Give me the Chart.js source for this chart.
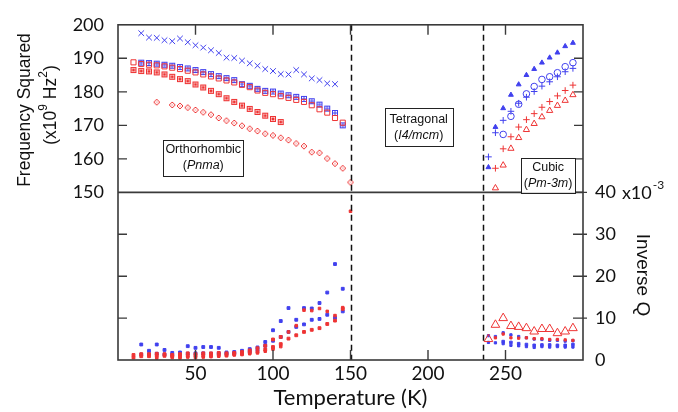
<!DOCTYPE html>
<html>
<head>
<meta charset="utf-8">
<script src="https://cdn.jsdelivr.net/npm/chart.js@4"></script>
<style>
  html, body { margin: 0; padding: 0; background: #fff; }
  #wrap { width: 678px; height: 412px; }
</style>
</head>
<body>
<div id="wrap"><canvas id="chart" width="678" height="412"></canvas></div>
<script>
// --- axis ticks ---
const xTickVals = [50, 100, 150, 200, 250];
const fTickVals = [150, 160, 170, 180, 190, 200];
const qTickVals = [0, 10, 20, 30, 40];
const phaseT = [150, 235.5];  // dashed phase boundaries (K)

// --- orthorhombic phase (T < 150 K) ---
const tOrtho = [10, 15, 20, 25, 30, 35, 40, 45, 50, 55, 60, 65, 70, 75, 80, 85, 90, 95, 100, 105, 110, 115, 120, 125, 130, 135, 140, 145];
const blueCrossF = [null, 197.5, 196.2, 196.1, 195.4, 195.1, 195.9, 194.8, 193.9, 193.2, 192.4, 191.6, 190.2, 190.1, 189.3, 188.5, 187.8, 186.8, 186.2, 185.3, 185.2, 186.5, 185.2, 184.0, 183.5, 182.5, 182.3, null];
const blueBoxF   = [null, 188.7, 188.6, 188.4, 188.1, 187.8, 187.4, 187.0, 186.5, 185.9, 185.3, 184.7, 184.1, 183.5, 182.3, 181.8, 180.9, 180.3, 180.1, 179.5, 179.0, 178.5, 177.9, 177.2, 176.2, 175.0, 173.7, 170.0];
const redBoxF    = [188.8, 188.3, 188.1, 187.9, 187.6, 187.2, 186.8, 186.3, 185.8, 185.2, 184.6, 184.0, 183.4, 182.8, 182.1, 181.4, 180.4, 179.7, 179.3, 178.7, 178.2, 177.6, 177.0, 176.0, 174.8, 173.8, 172.2, 170.8];
const redStarF   = [186.5, 186.2, 186.1, 185.8, 185.2, 184.5, 183.8, 183.2, 182.2, 181.3, 180.3, 179.3, 178.1, 177.0, 175.9, 174.9, 174.0, 172.9, 171.9, 171.0, null, null, null, null, null, null, null, null];
const blueCrossQ = [null, 3.7, 2.2, 3.7, 2.4, 1.7, 1.8, 3.3, 2.9, 3.1, 3.1, 2.9, 1.8, 1.9, 2.2, 2.6, 3.0, 4.3, 7.1, 9.3, 12.4, 9.6, 12.4, 12.3, 13.6, 16.1, 22.9, 17.0];
const blueBoxQ   = [null, 1.3, 1.4, 1.5, 1.3, 1.2, 1.3, 1.5, 1.6, 1.6, 1.5, 1.6, 1.5, 1.6, 1.8, 2.0, 2.4, 3.4, 4.6, 5.5, 6.7, 7.9, 8.5, 9.6, 9.8, 10.8, 10.1, 11.6];
const redBoxQ    = [0.6, 0.9, 0.9, 1.0, 1.0, 0.9, 0.9, 1.0, 1.0, 1.1, 1.1, 1.2, 1.2, 1.4, 1.5, 1.8, 2.0, 2.5, 3.1, 3.8, 5.1, 5.9, 6.7, 7.2, 7.6, 8.6, 9.4, 12.2];
const redStarQ   = [1.2, 1.4, 1.4, 1.5, 1.4, 1.2, 1.4, 1.6, 1.4, 1.6, 1.6, 1.7, 1.6, 1.7, 1.9, 2.3, 2.8, 3.4, 4.9, 5.5, null, null, null, null, null, null, null, null];

const tDiamond = [25, 35, 40, 45, 50, 55, 60, 65, 70, 75, 80, 85, 90, 95, 100, 105, 110, 115, 120, 125, 130, 135, 140, 145, 150];
const redDiamondF = [176.9, 176.1, 175.8, 175.3, 174.6, 173.9, 173.2, 172.2, 171.4, 170.7, 169.9, 169.0, 168.3, 167.5, 167.0, 166.3, 165.6, 164.6, 163.8, 162.0, 161.8, 160.1, 158.6, 157.2, 153.0];
const redDiamondQ = [0.5, 0.6, 0.5, 0.7, 0.6, 0.7, 0.8, 0.9, 1.0, 1.2, 1.3, 1.5, 1.7, 2.1, 2.6, 3.2, 6.7, 8.2, 11.9, 11.8, 12.3, 11.6, 10.6, 12.5, 35.5];

// --- cubic phase (T > 235 K) ---
const tCubic = [239, 243.5, 248.5, 253.5, 258.5, 263.5, 268.5, 273.5, 278.5, 283.5, 288.5, 293.5];
const blueTriF  = [157.5, 169.5, 175.1, 179.1, 182.2, 185.0, 186.8, 188.7, 190.2, 191.7, 193.6, 194.6];
const blueCircF = [null, null, 167.3, 172.7, 176.3, 179.4, 181.6, 183.7, 184.5, 185.7, 187.5, 188.7];
const bluePlusF = [160.6, 167.8, 171.5, 174.2, 176.6, 178.4, 180.1, 181.7, 183.0, 184.5, 186.0, 187.0];
const redPlusF  = [null, 157.2, 163.0, 166.6, 169.5, 171.7, 173.5, 175.4, 177.1, 178.8, 180.4, 182.0];
const redTriF   = [null, 151.3, 158.1, 163.1, 166.3, 168.7, 170.5, 172.5, 174.4, 175.9, 177.4, 179.1];
const redTriQ   = [5.0, 8.4, 10.0, 8.1, 7.9, 7.6, 6.8, 7.4, 7.4, 6.4, 6.8, 7.6];
const redPlusQ  = [null, 5.3, 6.2, 5.3, 5.2, 5.3, 5.1, 5.1, 4.9, 4.9, 4.8, 4.7];
const blueTriQ  = [5.8, 5.6, 6.5, 6.0, 5.6, 5.3, 5.0, 4.9, 4.7, 4.7, 4.5, 4.6];
const blueCircQ = [null, null, 4.4, 4.2, 3.9, 3.7, 3.5, 3.6, 3.6, 3.5, 3.5, 3.7];
const bluePlusQ = [4.2, 4.1, 3.9, 3.5, 3.4, 3.2, 3.0, 3.2, 3.1, 3.2, 3.1, 3.1];

const BLUE = '#4040ee';
const RED = '#ee3434';
const INK = '#111';
const FRAME = '#3a3a3a';

// small composite marker images
function marker(size, draw) {
  const c = document.createElement('canvas');
  c.width = c.height = size;
  const g = c.getContext('2d');
  g.lineWidth = 1;
  draw(g, size);
  return c;
}
const boxPlusBlue = marker(8, (g) => {
  g.strokeStyle = BLUE;
  g.strokeRect(1.5, 1.5, 5, 5);
  g.beginPath(); g.moveTo(4, 1.5); g.lineTo(4, 6.5); g.moveTo(1.5, 4); g.lineTo(6.5, 4); g.stroke();
});
const boxStarRed = marker(8, (g) => {
  g.strokeStyle = RED; g.fillStyle = RED;
  g.strokeRect(1.5, 1.5, 5, 5);
  g.fillRect(2.5, 2.5, 3, 3);
});
const diamondRed = marker(8, (g) => {
  g.strokeStyle = RED; g.fillStyle = RED;
  g.beginPath(); g.moveTo(4, 1); g.lineTo(7, 4); g.lineTo(4, 7); g.lineTo(1, 4); g.closePath(); g.stroke();
  g.fillRect(3.5, 3.5, 1, 1);
});

function series(ts, vs, axis, style) {
  const data = ts.map((t, i) => ({ x: t, y: vs[i] })).filter(p => p.y !== null);
  return Object.assign({ data, yAxisID: axis, showLine: false, pointBorderWidth: 1, pointHoverRadius: 0 }, style);
}
function open(color, shape, r) {
  return { pointStyle: shape, pointRadius: r, pointBorderColor: color, pointBackgroundColor: 'rgba(0,0,0,0)' };
}
function filled(color, shape, r) {
  return { pointStyle: shape, pointRadius: r, pointBorderColor: color, pointBackgroundColor: color };
}
function img(image) {
  return { pointStyle: image, pointRadius: 4 };
}

const datasets = [
  // frequency squared (top panel)
  series(tOrtho, blueCrossF, 'yF', open(BLUE, 'crossRot', 4)),
  series(tOrtho, redBoxF, 'yF', open(RED, 'rect', 3.6)),
  series(tOrtho, blueBoxF, 'yF', img(boxPlusBlue)),
  series(tOrtho, redStarF, 'yF', img(boxStarRed)),
  series(tDiamond, redDiamondF, 'yF', img(diamondRed)),
  series(tCubic, blueTriF, 'yF', filled(BLUE, 'triangle', 2.8)),
  series(tCubic, blueCircF, 'yF', open(BLUE, 'circle', 3.3)),
  series(tCubic, bluePlusF, 'yF', open(BLUE, 'cross', 3.3)),
  series(tCubic, redPlusF, 'yF', open(RED, 'cross', 3.3)),
  series(tCubic, redTriF, 'yF', open(RED, 'triangle', 3.6)),
  // inverse Q (bottom panel)
  series(tOrtho, redBoxQ, 'yQ', filled(RED, 'rect', 2)),
  series(tOrtho, redStarQ, 'yQ', filled(RED, 'rect', 2)),
  series(tDiamond, redDiamondQ, 'yQ', filled(RED, 'rect', 1.8)),
  series(tOrtho, blueBoxQ, 'yQ', filled(BLUE, 'rect', 2)),
  series(tOrtho, blueCrossQ, 'yQ', filled(BLUE, 'rect', 2)),
  series(tCubic, redTriQ, 'yQ', open(RED, 'triangle', 5)),
  series(tCubic, redPlusQ, 'yQ', filled(RED, 'rect', 1.6)),
  series(tCubic, blueTriQ, 'yQ', filled(BLUE, 'rect', 1.6)),
  series(tCubic, blueCircQ, 'yQ', filled(BLUE, 'rect', 1.8)),
  series(tCubic, bluePlusQ, 'yQ', filled(BLUE, 'rect', 1.6))
];

// text with superscripts, centred on (0,0) of the current transform
function richText(ctx, parts, size) {
  const supSize = Math.round(size * 0.68);
  let total = 0;
  parts.forEach(p => {
    ctx.font = (p.sup ? supSize : size) + 'px "Liberation Sans", Arial, sans-serif';
    p.w = ctx.measureText(p.t).width;
    total += p.w;
  });
  let x = -total / 2;
  parts.forEach(p => {
    ctx.font = (p.sup ? supSize : size) + 'px "Liberation Sans", Arial, sans-serif';
    ctx.fillText(p.t, x, p.sup ? -size * 0.4 : 0);
    x += p.w;
  });
}

function labelBox(ctx, cx, cy, w, h, line1, line2parts) {
  ctx.save();
  ctx.fillStyle = '#fff';
  ctx.fillRect(cx - w / 2, cy - h / 2, w, h);
  ctx.strokeStyle = '#222';
  ctx.lineWidth = 1;
  ctx.strokeRect(Math.round(cx - w / 2) + 0.5, Math.round(cy - h / 2) + 0.5, w, h);
  ctx.fillStyle = INK;
  ctx.textAlign = 'center';
  ctx.textBaseline = 'middle';
  ctx.font = '12.5px "Liberation Sans", Arial, sans-serif';
  ctx.fillText(line1, cx, cy - 7.5);
  // second line: "(" italic-part ")"
  let total = 0;
  line2parts.forEach(p => {
    ctx.font = (p.it ? 'italic ' : '') + '12.5px "Liberation Sans", Arial, sans-serif';
    p.w = ctx.measureText(p.t).width;
    total += p.w;
  });
  let x = cx - total / 2;
  ctx.textAlign = 'left';
  line2parts.forEach(p => {
    ctx.font = (p.it ? 'italic ' : '') + '12.5px "Liberation Sans", Arial, sans-serif';
    ctx.fillText(p.t, x, cy + 8);
    x += p.w;
  });
  ctx.restore();
}

const framePlugin = {
  id: 'framePlugin',
  afterDatasetsDraw(chart) {
    const { ctx, chartArea: a, scales: { x, yF, yQ } } = chart;
    const sep = yF.getPixelForValue(150);
    ctx.save();

    // phase boundaries
    ctx.strokeStyle = '#111';
    ctx.lineWidth = 1.5;
    ctx.setLineDash([6, 4]);
    phaseT.forEach(t => {
      const px = Math.round(x.getPixelForValue(t)) + 0.5;
      ctx.beginPath(); ctx.moveTo(px, a.top); ctx.lineTo(px, a.bottom); ctx.stroke();
    });
    ctx.setLineDash([]);

    // frame and panel separator
    ctx.strokeStyle = FRAME;
    ctx.lineWidth = 1.6;
    ctx.strokeRect(a.left, a.top, a.right - a.left, a.bottom - a.top);
    ctx.beginPath(); ctx.moveTo(a.left, sep); ctx.lineTo(a.right, sep); ctx.stroke();

    // inward ticks
    ctx.lineWidth = 1.4;
    ctx.beginPath();
    xTickVals.forEach(v => {
      const px = x.getPixelForValue(v);
      ctx.moveTo(px, a.bottom); ctx.lineTo(px, a.bottom - 10);
      ctx.moveTo(px, a.top); ctx.lineTo(px, a.top + 10);
    });
    fTickVals.slice(1, -1).forEach(v => {
      const py = yF.getPixelForValue(v);
      ctx.moveTo(a.left, py); ctx.lineTo(a.left + 9, py);
      ctx.moveTo(a.right, py); ctx.lineTo(a.right - 9, py);
    });
    qTickVals.forEach(v => {
      const py = yQ.getPixelForValue(v);
      if (v > 0 && v < 40) { ctx.moveTo(a.left, py); ctx.lineTo(a.left + 9, py); }
      if (v > 0) { ctx.moveTo(a.right - 10, py); ctx.lineTo(a.right + 4, py); }
    });
    ctx.stroke();

    // phase labels
    labelBox(ctx, x.getPixelForValue(55), yF.getPixelForValue(160.4), 80, 36, 'Orthorhombic',
      [{ t: '(' }, { t: 'Pnma', it: true }, { t: ')' }]);
    labelBox(ctx, x.getPixelForValue(194), yF.getPixelForValue(169.4), 68, 38, 'Tetragonal',
      [{ t: '(' }, { t: 'I4/mcm', it: true }, { t: ')' }]);
    labelBox(ctx, x.getPixelForValue(277.5), yF.getPixelForValue(155.1), 54, 35, 'Cubic',
      [{ t: '(' }, { t: 'Pm-3m', it: true }, { t: ')' }]);

    // exponent after the 40 tick on the right axis
    ctx.fillStyle = INK;
    ctx.textBaseline = 'middle';
    ctx.textAlign = 'left';
    ctx.font = '18px Lato, sans-serif';
    const lx = yQ.left + 12 + ctx.measureText('40').width + 6;
    const ly = yQ.getPixelForValue(40) + 1;
    ctx.fillText('x10', lx, ly);
    const w10 = ctx.measureText('x10').width;
    ctx.font = '12px Lato, sans-serif';
    ctx.fillText('-3', lx + w10 + 1, ly - 8);

    // y axis titles
    ctx.fillStyle = INK;
    ctx.textAlign = 'left';
    ctx.textBaseline = 'middle';
    ctx.save();
    ctx.translate(25, 110);
    ctx.rotate(-Math.PI / 2);
    richText(ctx, [{ t: 'Frequency Squared' }], 17.5);
    ctx.restore();
    ctx.save();
    ctx.translate(51, 105);
    ctx.rotate(-Math.PI / 2);
    richText(ctx, [{ t: '(x10' }, { t: '9', sup: true }, { t: ' Hz' }, { t: '2', sup: true }, { t: ')' }], 17.5);
    ctx.restore();
    ctx.save();
    ctx.translate(642, 275);
    ctx.rotate(Math.PI / 2);
    richText(ctx, [{ t: 'Inverse Q' }], 19);
    ctx.restore();

    ctx.restore();
  }
};

const tickFont = { family: 'Lato', size: 18 };
const noGrid = { display: false, drawTicks: false };

new Chart(document.getElementById('chart'), {
  type: 'scatter',
  data: { datasets },
  options: {
    responsive: false,
    animation: false,
    devicePixelRatio: 1,
    layout: { padding: { top: 21, left: 0, right: 0, bottom: 0 } },
    plugins: { legend: { display: false }, tooltip: { enabled: false } },
    events: [],
    scales: {
      x: {
        type: 'linear', position: 'bottom', min: 0, max: 300,
        grid: noGrid, border: { display: false },
        ticks: {
          stepSize: 50, autoSkip: false, maxRotation: 0, padding: 2, color: INK,
          font: { family: 'Lato', size: 19 },
          callback: v => xTickVals.includes(v) ? String(v) : ''
        },
        title: {
          display: true, text: 'Temperature (K)', color: INK,
          font: { family: 'Lato', size: 22 }, padding: { top: 0, bottom: 1 }
        },
        afterFit: s => { s.height = 52; }
      },
      yF: {
        type: 'linear', position: 'left', min: 100, max: 200,
        grid: noGrid, border: { display: false },
        ticks: {
          stepSize: 10, autoSkip: false, padding: 14, color: INK, font: tickFont,
          callback: v => fTickVals.includes(v) ? String(v) : ''
        },
        afterFit: s => { s.width = 118; }
      },
      yQ: {
        type: 'linear', position: 'right', min: 0, max: 80,
        grid: noGrid, border: { display: false },
        ticks: {
          stepSize: 10, autoSkip: false, padding: 12, color: INK, font: tickFont,
          callback: v => qTickVals.includes(v) ? String(v) : ''
        },
        afterFit: s => { s.width = 95; }
      }
    }
  },
  plugins: [framePlugin]
});
</script>
</body>
</html>
